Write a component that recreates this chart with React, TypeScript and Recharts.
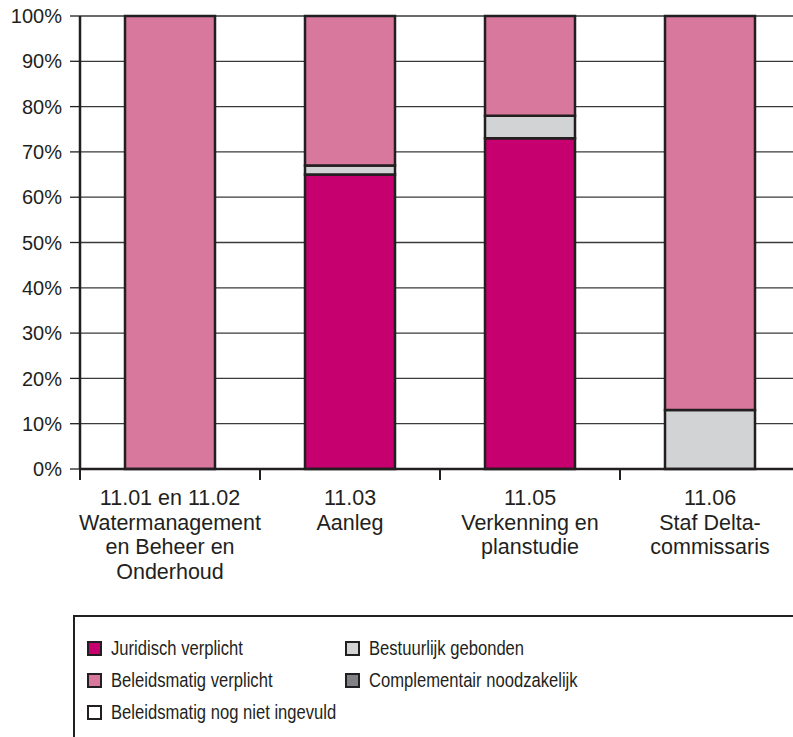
import React from "react";
import { BarChart, Bar, XAxis, YAxis, CartesianGrid, Legend } from "recharts";

const categories = [
  "11.01 en 11.02\nWatermanagement\nen Beheer en\nOnderhoud",
  "11.03\nAanleg",
  "11.05\nVerkenning en\nplanstudie",
  "11.06\nStaf Delta-\ncommissaris",
];

const juridisch = [0, 65, 73, 0];
const bestuurlijk = [0, 2, 5, 13];
const complementair = [0, 0, 0, 0];
const beleidsmatig = [100, 33, 22, 87];
const nogNietIngevuld = [0, 0, 0, 0];

const yTicks = [0, 10, 20, 30, 40, 50, 60, 70, 80, 90, 100];
const edgeTicks = [0, 1, 2, 3, 4];

const INK = "#231f20";
const FONT = "'Liberation Sans', Arial, sans-serif";

const series = [
  { key: "juridisch", name: "Juridisch verplicht", color: "#c6006e" },
  { key: "bestuurlijk", name: "Bestuurlijk gebonden", color: "#d1d3d4" },
  { key: "complementair", name: "Complementair noodzakelijk", color: "#808285" },
  { key: "beleidsmatig", name: "Beleidsmatig verplicht", color: "#d8789c" },
  { key: "nogNiet", name: "Beleidsmatig nog niet ingevuld", color: "#ffffff" },
];

// legend reads row by row, two columns
const legendOrder = ["juridisch", "bestuurlijk", "beleidsmatig", "complementair", "nogNiet"];

const data = categories.map((name, i) => ({
  name,
  edge: i,
  juridisch: juridisch[i],
  bestuurlijk: bestuurlijk[i],
  complementair: complementair[i],
  beleidsmatig: beleidsmatig[i],
  nogNiet: nogNietIngevuld[i],
}));

function CategoryTick(props: any) {
  const { x, y, payload } = props;
  const lines = String(payload.value).split("\n");
  return (
    <text
      x={x}
      y={y}
      textAnchor="middle"
      fill={INK}
      fontSize={21.5}
      fontFamily={FONT}
    >
      {lines.map((l, i) => (
        <tspan key={i} x={x} dy={i === 0 ? 35 : 24.5}>
          {l}
        </tspan>
      ))}
    </text>
  );
}

function NoLabel() {
  return <g />;
}

function LegendBox() {
  return (
    <div
      style={{
        position: "relative",
        width: 760,
        height: 140,
        borderTop: `2.5px solid ${INK}`,
        borderLeft: `2.5px solid ${INK}`,
        boxSizing: "border-box",
        fontFamily: FONT,
        fontSize: 20.5,
        color: INK,
      }}
    >
      {legendOrder.map((k, i) => {
        const s = series.find((d) => d.key === k)!;
        const col = i % 2;
        const row = Math.floor(i / 2);
        return (
          <div
            key={k}
            style={{
              position: "absolute",
              left: col === 0 ? 12 : 270,
              top: 19 + row * 32,
              display: "flex",
              alignItems: "center",
              whiteSpace: "nowrap",
              lineHeight: "24px",
            }}
          >
            <span
              style={{
                display: "inline-block",
                width: 11,
                height: 11,
                background: s.color,
                border: `2px solid ${INK}`,
                marginRight: 9,
              }}
            />
            <span style={{ display: "inline-block", transform: "scaleX(0.81)", transformOrigin: "left center" }}>
              {s.name}
            </span>
          </div>
        );
      })}
    </div>
  );
}

export default function App() {
  return (
    <div style={{ position: "absolute", left: 0, top: 0, width: 793, height: 737, overflow: "hidden", background: "#fff" }}>
      <BarChart
        width={810}
        height={737}
        data={data}
        margin={{ top: 16, right: 10, bottom: 158, left: 0 }}
        barCategoryGap="25%"
      >
        <CartesianGrid vertical={false} stroke="#3a3a3a" strokeWidth={1.3} yAxisId="y" />
        <XAxis
          xAxisId="aaEdge"
          type="number"
          dataKey="edge"
          domain={[0, 4]}
          allowDataOverflow
          ticks={edgeTicks}
          interval={0}
          tick={<NoLabel />}
          tickSize={11}
          axisLine={{ stroke: INK, strokeWidth: 2.5 }}
          tickLine={{ stroke: INK, strokeWidth: 2 }}
          height={1}
        />
        <XAxis
          xAxisId="cat"
          dataKey="name"
          tick={<CategoryTick />}
          tickLine={false}
          tickSize={0}
          tickMargin={0}
          axisLine={false}
          interval={0}
          height={109}
        />
        <YAxis
          yAxisId="y"
          domain={[0, 100]}
          ticks={yTicks}
          tickFormatter={(v) => `${v}%`}
          width={80}
          tickSize={10}
          tickMargin={8}
          axisLine={{ stroke: INK, strokeWidth: 2.5 }}
          tickLine={{ stroke: INK, strokeWidth: 1.3 }}
          tick={{ fill: INK, fontSize: 20, fontFamily: FONT }}
        />
        {series.map((s) => (
          <Bar
            key={s.key}
            dataKey={s.key}
            name={s.name}
            stackId="a"
            xAxisId="cat"
            yAxisId="y"
            fill={s.color}
            stroke={INK}
            strokeWidth={2.5}
            isAnimationActive={false}
          />
        ))}
        <Legend
          layout="horizontal"
          verticalAlign="middle"
          align="center"
          content={() => <LegendBox />}
          wrapperStyle={{ position: "absolute", left: 73, top: 615, width: 760, height: 140 }}
        />
      </BarChart>
    </div>
  );
}
